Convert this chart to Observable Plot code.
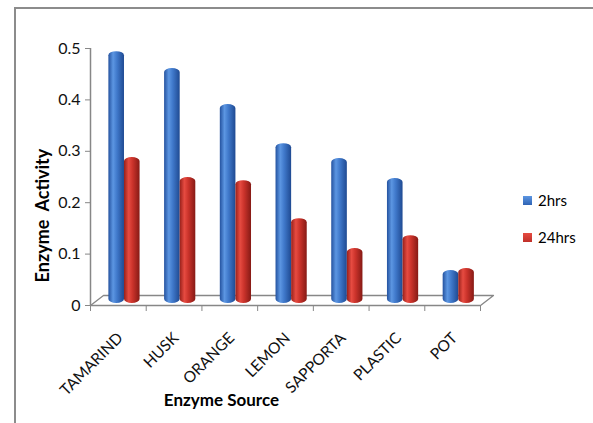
<!DOCTYPE html>
<html>
<head>
<meta charset="utf-8">
<script src="https://cdn.jsdelivr.net/npm/d3@7"></script>
<script src="https://cdn.jsdelivr.net/npm/@observablehq/plot@0.6"></script>
<style>
  html, body { margin: 0; padding: 0; background: #fff; }
  #wrap { position: relative; width: 593px; height: 423px; overflow: hidden; font-family: Lato, "Open Sans", sans-serif; }
  #border { position: absolute; left: 14px; top: 7px; width: 700px; height: 600px; border: 2px solid #8c8c8c; box-sizing: border-box; }
  #chart { position: absolute; left: 0; top: 0; }
  #chart svg text { white-space: pre; }
  #legend { position: absolute; left: 523px; top: 190px; font-size: 15px; color: #000; }
  .item { display: flex; align-items: center; height: 20px; margin-bottom: 17px; }
  .sw { width: 9px; height: 9px; margin-right: 6px; }
</style>
</head>
<body>
<div id="wrap">
  <div id="border"></div>
  <div id="chart"></div>
  <div id="legend"></div>
</div>
<script>
const categories = ["TAMARIND", "HUSK", "ORANGE", "LEMON", "SAPPORTA", "PLASTIC", "POT"];
const seriesNames = ["2hrs", "24hrs"];
const values2hrs  = [0.49, 0.457, 0.387, 0.311, 0.282, 0.243, 0.064];
const values24hrs = [0.284, 0.245, 0.239, 0.165, 0.107, 0.132, 0.068];
const yTicks = [0, 0.1, 0.2, 0.3, 0.4, 0.5];
const xTitle = "Enzyme Source";
const yTitle = "Enzyme  Activity";

const gradIds = ["gradBlue", "gradRed"];
const swatch = ["#2f63b4", "#c0302a"];

const rows = [];
categories.forEach((c, i) => {
  rows.push({cat: c, i, series: 0, value: values2hrs[i]});
  rows.push({cat: c, i, series: 1, value: values24hrs[i]});
});

// geometry of the bars inside each category slot (fractions of a slot)
const barStart = [0.33, 0.61];
const barEnd = [0.61, 0.89];
const depthX = 0.233, depthY = 0.0195; // floor depth in data units

const gray = "#878787";

const chart = Plot.plot({
  width: 593,
  height: 423,
  marginLeft: 90,
  marginRight: 113,
  marginTop: 48,
  marginBottom: 118,
  style: {fontFamily: "Lato, 'Open Sans', sans-serif", background: "transparent", overflow: "visible"},
  x: {domain: [0, categories.length], axis: null},
  y: {domain: [0, 0.5], axis: null},
  marks: [
    // floor
    Plot.line([[0, 0], [depthX, depthY], [categories.length + depthX, depthY], [categories.length, 0]],
      {x: d => d[0], y: d => d[1], stroke: gray, strokeWidth: 1.3}),
    Plot.ruleY([0], {stroke: gray, strokeWidth: 1.5}),
    Plot.ruleX([0], {stroke: gray, strokeWidth: 1.5}),
    // y axis
    Plot.axisY({ticks: yTicks, tickFormat: d3.format(""), tickSize: 5, tickPadding: 5, fontSize: 16, stroke: gray, color: "#111", label: null}),
    // x ticks at category boundaries
    Plot.axisX({ticks: d3.range(categories.length + 1), tickFormat: () => "", tickSize: 6, stroke: gray, label: null}),
    // bars (cylinders)
    Plot.rectY(rows, {
      x1: d => d.i + barStart[d.series],
      x2: d => d.i + barEnd[d.series],
      y1: 0,
      y2: "value",
      dy: -2,
      fill: d => `url(#${gradIds[d.series]})`,
      rx: 8, ry: 4
    }),
    // category labels
    Plot.text(categories, {
      x: (d, i) => i + 0.5,
      y: 0,
      text: d => d,
      rotate: -45,
      textAnchor: "end",
      dx: 2, dy: 30,
      fontSize: 15.5,
      fill: "#111"
    }),
    // axis titles
    Plot.text([xTitle], {x: 2.35, y: 0, dy: 95, fontSize: 17, fontWeight: "bold", fill: "#000"}),
    Plot.text([yTitle], {x: -0.845, y: 0.175, rotate: -90, fontSize: 18, fontWeight: "bold", fill: "#000"})
  ]
});

// cylinder shading gradients
const ns = "http://www.w3.org/2000/svg";
const defs = document.createElementNS(ns, "defs");
const gradStops = [
  [["0", "#24529f"], ["0.3", "#5c96e2"], ["0.55", "#4079cb"], ["1", "#1f4a92"]],
  [["0", "#98201a"], ["0.3", "#e64b41"], ["0.55", "#cb332b"], ["1", "#861a15"]]
];
gradIds.forEach((id, k) => {
  const g = document.createElementNS(ns, "linearGradient");
  g.setAttribute("id", id);
  g.setAttribute("x1", "0"); g.setAttribute("x2", "1");
  g.setAttribute("y1", "0"); g.setAttribute("y2", "0");
  gradStops[k].forEach(([o, c]) => {
    const s = document.createElementNS(ns, "stop");
    s.setAttribute("offset", o);
    s.setAttribute("stop-color", c);
    g.appendChild(s);
  });
  defs.appendChild(g);
});
chart.insertBefore(defs, chart.firstChild);
document.getElementById("chart").appendChild(chart);

// legend
const legend = document.getElementById("legend");
seriesNames.forEach((name, k) => {
  const item = document.createElement("div");
  item.className = "item";
  const sw = document.createElement("div");
  sw.className = "sw";
  sw.style.background = `linear-gradient(180deg, ${gradStops[k][1][1]}, ${swatch[k]})`;
  const label = document.createElement("span");
  label.textContent = name;
  item.appendChild(sw);
  item.appendChild(label);
  legend.appendChild(item);
});
</script>
</body>
</html>
